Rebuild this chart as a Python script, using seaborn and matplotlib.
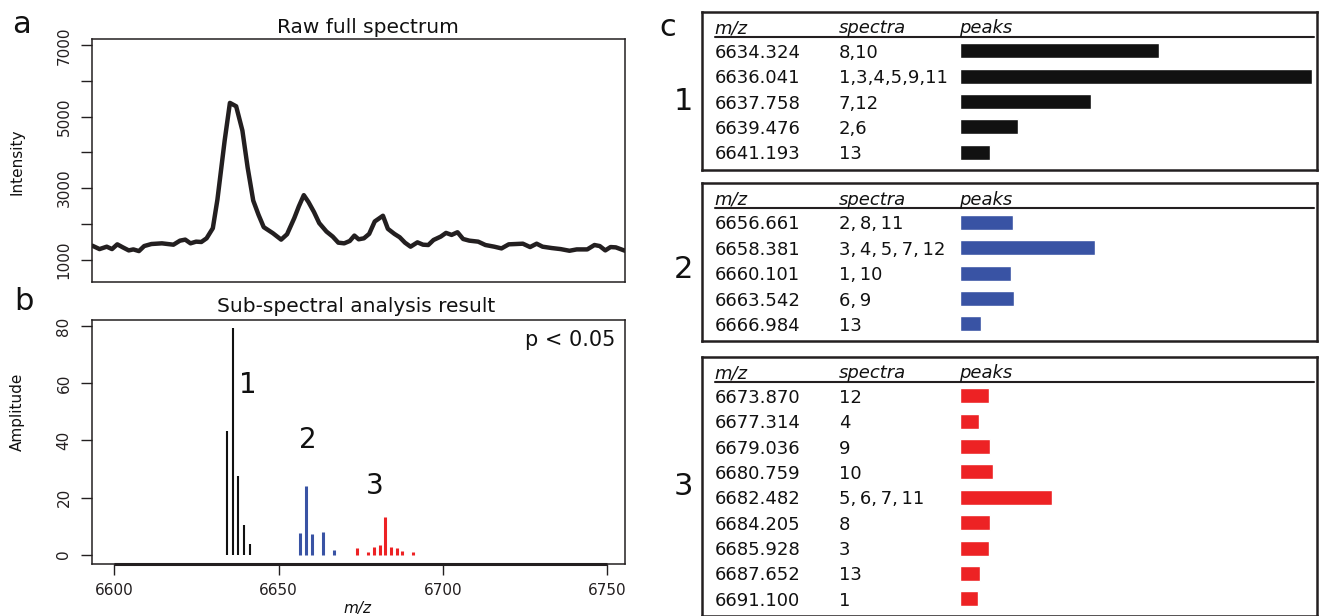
import numpy as np
import pandas as pd
import matplotlib
matplotlib.use('Agg')
import matplotlib.pyplot as plt
import seaborn as sns

sns.set_style('ticks')
plt.rcParams['font.family'] = ['DejaVu Sans']
plt.rcParams['text.color'] = '#111111'

# a: raw full spectrum
raw_mz = [6593.3, 6595.5, 6597.7, 6599.3, 6600.9, 6602.6, 6604.4, 6605.8, 6607.5, 6609.1,
          6611.3, 6614.5, 6618.0, 6620.0, 6621.6, 6623.2, 6624.9, 6626.5, 6628.1, 6630.0,
          6631.4, 6633.6, 6635.2, 6637.1, 6639.0, 6640.6, 6642.3, 6643.9, 6645.5, 6648.3,
          6650.8, 6652.6, 6654.8, 6656.2, 6657.7, 6659.1, 6660.8, 6662.4, 6664.6, 6666.5,
          6668.2, 6670.0, 6671.7, 6673.1, 6674.4, 6676.0, 6677.6, 6679.3, 6681.8, 6683.3,
          6685.3, 6686.9, 6688.5, 6690.2, 6692.3, 6694.0, 6695.6, 6697.2, 6699.4, 6701.0,
          6702.7, 6704.5, 6706.2, 6708.1, 6710.8, 6713.0, 6715.7, 6717.9, 6720.1, 6724.4,
          6726.6, 6728.6, 6730.4, 6733.2, 6735.9, 6738.6, 6740.8, 6744.0, 6746.2, 6747.8,
          6749.5, 6751.1, 6752.7, 6755.5]
raw_intensity = [1387, 1292, 1359, 1292, 1425, 1340, 1255, 1283, 1236, 1377,
                 1434, 1453, 1415, 1528, 1557, 1453, 1500, 1491, 1594, 1877,
                 2679, 4330, 5387, 5292, 4613, 3575, 2651, 2255, 1906, 1736,
                 1557, 1708, 2160, 2491, 2802, 2613, 2330, 2019, 1783, 1642,
                 1472, 1453, 1519, 1670, 1566, 1594, 1717, 2066, 2226, 1859,
                 1717, 1623, 1472, 1359, 1481, 1415, 1406, 1547, 1642, 1745,
                 1689, 1764, 1575, 1528, 1500, 1406, 1359, 1311, 1425, 1443,
                 1349, 1443, 1359, 1321, 1292, 1245, 1283, 1283, 1406, 1377,
                 1255, 1349, 1340, 1245]

# b / c: the three sub-spectra
mz_1 = ['6634.324', '6636.041', '6637.758', '6639.476', '6641.193']
amp_1 = [43.4, 79.4, 27.4, 10.3, 3.9]
spectra_1 = ['8,10', '1,3,4,5,9,11', '7,12', '2,6', '13']
peaks_1 = [199, 352, 131, 58, 30]

mz_2 = ['6656.661', '6658.381', '6660.101', '6663.542', '6666.984']
amp_2 = [7.6, 24.0, 7.4, 7.8, 1.5]
spectra_2 = ['2, 8, 11', '3, 4, 5, 7, 12', '1, 10', '6, 9', '13']
peaks_2 = [53, 135, 51, 54, 21]

mz_3 = ['6673.870', '6677.314', '6679.036', '6680.759', '6682.482',
        '6684.205', '6685.928', '6687.652', '6691.100']
amp_3 = [2.5, 0.9, 2.7, 3.4, 13.2, 2.7, 2.5, 1.2, 0.8]
spectra_3 = ['12', '4', '9', '10', '5, 6, 7, 11', '8', '3', '13', '1']
peaks_3 = [29, 19, 30, 33, 92, 30, 29, 20, 18]

ink = '#231f20'
colors = ['#111111', '#3953a4', '#ed2224']

W, H = 1319, 616
fig = plt.figure(figsize=(W / 100, H / 100), dpi=100)


def px_axes(left, top, right, bottom):
    return fig.add_axes([left / W, 1 - bottom / H, (right - left) / W, (bottom - top) / H])


def style_box(ax, lw=1.1):
    for s in ax.spines.values():
        s.set_linewidth(lw)
        s.set_color(ink)


xlim = (6593.3, 6755.5)

# ---- panel a
ax_a = px_axes(92.3, 39.3, 625, 282)
sns.lineplot(x=raw_mz, y=raw_intensity, ax=ax_a, color=ink, lw=3.2, sort=False)
ax_a.set_xlim(*xlim)
ax_a.set_ylim(370, 7168)
ax_a.set_xticks([])
yt = list(range(1000, 8000, 1000))
ax_a.set_yticks(yt)
ax_a.set_yticklabels([str(v) if v % 2000 == 1000 else '' for v in yt], rotation=90, va='center')
ax_a.tick_params(axis='y', length=8, width=1, pad=7, labelsize=11, colors=ink)
ax_a.set(xlabel='', ylabel='')
style_box(ax_a)

# ---- panel b
ax_b = px_axes(92.3, 320, 625, 563.7)
for mz, amp, c, lw in [(mz_1, amp_1, colors[0], 1.5), (mz_2, amp_2, colors[1], 2.2),
                       (mz_3, amp_3, colors[2], 2.2)]:
    ax_b.vlines([float(m) for m in mz], 0, amp, color=c, lw=lw)
ax_b.set_xlim(*xlim)
ax_b.set_ylim(-3.16, 82.1)
ax_b.set_xticks([6600, 6650, 6700, 6750])
ax_b.set_yticks([0, 20, 40, 60, 80])
ax_b.set_yticklabels(['0', '20', '40', '60', '80'], rotation=90, va='center')
ax_b.tick_params(axis='y', length=8, width=1, pad=7, labelsize=11, colors=ink)
ax_b.tick_params(axis='x', length=8, width=1, pad=6, labelsize=11, colors=ink)
ax_b.plot([6600, 6750], [-3.16, -3.16], color=ink, lw=2.2, clip_on=False, solid_capstyle='butt')
style_box(ax_b)
ax_b.text(6640.6, 59.3, '1', fontsize=20, ha='center', va='center')
ax_b.text(6659.0, 40.0, '2', fontsize=20, ha='center', va='center')
ax_b.text(6679.3, 23.9, '3', fontsize=20, ha='center', va='center')
ax_b.text(6752.7, 75.0, 'p < 0.05', fontsize=15, ha='right', va='center')

# titles and labels
fig.text(368 / W, 1 - 33 / H, 'Raw full spectrum', fontsize=14.5, ha='center', va='baseline')
fig.text(356 / W, 1 - 312 / H, 'Sub-spectral analysis result', fontsize=14.5, ha='center', va='baseline')
fig.text(17 / W, 1 - 162 / H, 'Intensity', fontsize=11, rotation=90, ha='center', va='center')
fig.text(17 / W, 1 - 412 / H, 'Amplitude', fontsize=11, rotation=90, ha='center', va='center')
fig.text(357 / W, 1 - 615.5 / H, 'm/z', fontsize=11, style='italic', ha='center', va='bottom')
fig.text(12 / W, 1 - 33 / H, 'a', fontsize=22, ha='left', va='baseline')
fig.text(14 / W, 1 - 310 / H, 'b', fontsize=22, ha='left', va='baseline')
fig.text(659 / W, 1 - 36 / H, 'c', fontsize=22, ha='left', va='baseline')

# ---- panel c tables
tables = [(mz_1, spectra_1, peaks_1), (mz_2, spectra_2, peaks_2), (mz_3, spectra_3, peaks_3)]
box_tops = [11.7, 183.3, 356.7]
label_y = [101.7, 270, 486.7]
row_h = 25.4
bar_x0 = 960
box_l, box_r = 702, 1317

for k, (mz, spec, peaks) in enumerate(tables):
    n = len(mz)
    top = box_tops[k]
    bottom = top + 39 + row_h * (n - 1) + 17.5
    ax = px_axes(box_l, top, box_r, bottom)
    df = pd.DataFrame({'mz': mz, 'peaks': peaks})
    sns.barplot(data=df, x='peaks', y='mz', orient='h', color=colors[k], saturation=1,
                width=15 / row_h, errorbar=None, ax=ax)
    ax.set_xlim(box_l - bar_x0, box_r - bar_x0)
    ax.set_ylim(n - 1 + 17.5 / row_h, -39 / row_h)
    ax.set_xticks([])
    ax.set_yticks([])
    ax.set(xlabel='', ylabel='')
    style_box(ax, lw=1.8)
    x_mz, x_sp = 714.7 - bar_x0, 839 - bar_x0
    hy = -17.4 / row_h
    ax.text(x_mz, hy, 'm/z', style='italic', fontsize=13, va='baseline')
    ax.text(x_sp, hy, 'spectra', style='italic', fontsize=13, va='baseline')
    ax.text(-1, hy, 'peaks', style='italic', fontsize=13, va='baseline')
    ax.plot([x_mz, 1314 - bar_x0], [-14 / row_h] * 2, color=ink, lw=1.5)
    for i in range(n):
        ax.text(x_mz, i + 7 / row_h, mz[i], fontsize=13, va='baseline')
        ax.text(x_sp, i + 7 / row_h, spec[i].replace(' ', '\u2009'), fontsize=13, va='baseline')
    fig.text(683 / W, 1 - label_y[k] / H, str(k + 1), fontsize=22, ha='center', va='center')

fig.savefig('out.png', dpi=100)
